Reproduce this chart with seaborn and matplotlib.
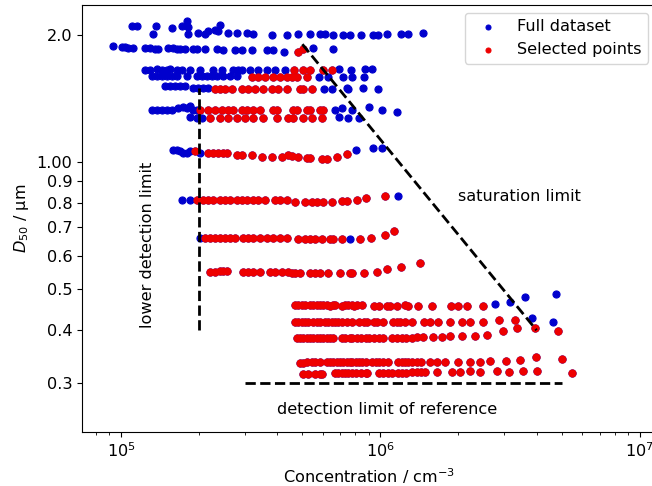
import numpy as np
import pandas as pd
import matplotlib
matplotlib.use("Agg")
import matplotlib.pyplot as plt
import seaborn as sns
from matplotlib.ticker import FixedLocator, FixedFormatter, NullLocator

# ---------------- data (concentration in units of 1e5 cm^-3, D50 in µm) ----------------
# Each row: points of the full dataset not selected (blue) and the selected points (red)
a_blue_c = [1.10, 1.15, 1.36, 1.33, 1.57, 1.72, 1.80, 1.81, 1.81, 1.98, 2.11, 2.16, 2.30, 2.36, 2.41, 2.58, 2.80,
            3.06, 3.23, 3.82, 4.36, 4.81, 5.35, 5.85, 6.11, 6.56, 7.15, 7.60, 8.45, 9.39, 9.82, 10.6, 12.0, 12.8, 14.6]
a_blue_d = [2.10, 2.10, 2.10, 2.01, 2.08, 2.10, 2.16, 2.09, 2.01, 2.02, 2.01, 2.04, 2.05, 2.04, 2.11, 2.02, 2.02,
            2.02, 2.01, 2.00, 2.00, 2.01, 2.01, 2.01, 2.01, 2.00, 2.00, 2.00, 2.00, 2.00, 2.00, 2.01, 2.01, 2.01, 2.02]
a_red_c = []
a_red_d = []

b_blue_c = [0.93, 1.01, 1.04, 1.06, 1.11, 1.24, 1.29, 1.35, 1.39, 1.52, 1.59, 1.64, 1.69, 1.76, 1.89, 1.96, 2.11,
            2.34, 2.47, 2.75, 2.93, 3.20, 3.65, 3.85, 4.25, 5.50, 6.56]
b_blue_d = [1.88, 1.87, 1.87, 1.86, 1.86, 1.86, 1.86, 1.85, 1.85, 1.86, 1.86, 1.85, 1.85, 1.85, 1.85, 1.85, 1.85,
            1.85, 1.84, 1.84, 1.84, 1.84, 1.84, 1.84, 1.82, 1.86, 1.85]
b_red_c = [4.81, 5.01]
b_red_d = [1.82, 1.85]

c_blue_c = [1.24, 1.29, 1.38, 1.44, 1.50, 1.54, 1.64, 1.72, 1.85, 2.01, 2.26, 2.45, 2.70, 2.83, 2.93, 3.14, 3.37,
            3.65, 3.92, 4.28, 6.91, 7.67, 8.75, 9.31]
c_blue_d = [1.65, 1.65, 1.66, 1.65, 1.65, 1.66, 1.65, 1.65, 1.65, 1.65, 1.65, 1.65, 1.65, 1.65, 1.65, 1.65, 1.65,
            1.65, 1.65, 1.65, 1.66, 1.65, 1.66, 1.66]
c_red_c = [4.65, 5.01, 5.35, 6.00, 6.50]
c_red_d = [1.65, 1.65, 1.65, 1.65, 1.65]

d_blue_c = [1.32, 1.38, 1.44, 1.50, 1.57, 1.64, 1.80, 1.96, 2.05, 2.14, 2.24, 2.34, 2.47, 2.63, 2.80,
            5.80, 6.28, 7.15, 7.74, 8.67]
d_blue_d = [1.60, 1.60, 1.60, 1.60, 1.60, 1.60, 1.60, 1.60, 1.60, 1.60, 1.60, 1.60, 1.60, 1.60, 1.60,
            1.59, 1.59, 1.59, 1.59, 1.59]
d_red_c = [3.20, 3.37, 3.58, 3.85, 4.10, 4.36, 4.56, 4.77, 5.21]
d_red_d = [1.59, 1.59, 1.59, 1.59, 1.59, 1.59, 1.59, 1.59, 1.59]

e_blue_c = [1.48, 1.54, 1.61, 1.69, 1.76, 1.89, 1.98, 2.07, 2.16, 6.06, 6.50, 7.41, 7.47, 8.60, 9.82]
e_blue_d = [1.51, 1.51, 1.51, 1.51, 1.51, 1.50, 1.50, 1.50, 1.50, 1.49, 1.49, 1.50, 1.49, 1.50, 1.49]
e_red_c = [2.30, 2.41, 2.52, 2.68, 2.93, 3.09, 3.28, 3.52, 3.82, 4.03, 4.36, 4.90, 5.01, 5.45]
e_red_d = [1.49, 1.49, 1.49, 1.49, 1.49, 1.49, 1.49, 1.49, 1.49, 1.49, 1.49, 1.49, 1.49, 1.49]

f_blue_c = [1.32, 1.38, 1.44, 1.50, 1.57, 1.66, 1.73, 1.80, 1.85, 1.89, 1.96, 6.68, 7.09, 7.80, 9.07, 10.1, 11.6]
f_blue_d = [1.33, 1.33, 1.33, 1.33, 1.33, 1.34, 1.35, 1.34, 1.36, 1.33, 1.33, 1.33, 1.34, 1.33, 1.35, 1.33, 1.31]
f_red_c = [2.01, 2.16, 2.30, 2.45, 2.58, 2.70, 2.93, 3.06, 3.23, 3.43, 3.85, 3.99, 4.60, 4.77, 5.21, 5.35, 5.85, 6.00]
f_red_d = [1.33, 1.33, 1.33, 1.33, 1.33, 1.33, 1.33, 1.33, 1.33, 1.33, 1.33, 1.33, 1.33, 1.33, 1.33, 1.33, 1.33, 1.33]

g_blue_c = [1.85, 1.96, 2.05, 6.91, 7.47, 8.30]
g_blue_d = [1.28, 1.27, 1.27, 1.28, 1.27, 1.27]
g_red_c = [2.20, 2.41, 2.58, 2.80, 3.01, 3.23, 3.52, 3.99, 4.40, 4.60, 5.01, 5.45, 5.96]
g_red_d = [1.27, 1.27, 1.27, 1.27, 1.27, 1.27, 1.27, 1.27, 1.27, 1.27, 1.27, 1.27, 1.27]

h_blue_c = [1.59, 1.64, 1.69, 1.73, 1.80, 1.85, 2.01, 8.08, 9.39, 10.1]
h_blue_d = [1.07, 1.07, 1.06, 1.05, 1.05, 1.06, 1.05, 1.07, 1.08, 1.08]
h_red_c = [1.93, 2.16, 2.26, 2.36, 2.47, 2.56, 2.80, 2.93, 3.20, 3.49, 3.82, 4.17, 4.40, 4.56, 4.81, 5.21, 5.35,
           5.96, 6.22, 6.80, 7.41]
h_red_d = [1.06, 1.05, 1.05, 1.05, 1.05, 1.05, 1.04, 1.04, 1.04, 1.03, 1.03, 1.03, 1.04, 1.035, 1.03, 1.025, 1.02,
           1.015, 1.015, 1.03, 1.045]

i_blue_c = [1.72, 1.85, 11.7]
i_blue_d = [0.815, 0.815, 0.83]
i_red_c = [1.96, 2.07, 2.16, 2.26, 2.41, 2.52, 2.63, 2.80, 2.93, 3.06, 3.23, 3.37, 3.58, 3.92, 4.10, 4.36,
           4.68, 5.11, 5.45, 5.70, 6.00, 6.50, 7.09, 7.41, 8.15, 8.83, 10.4]
i_red_d = [0.812, 0.812, 0.812, 0.812, 0.812, 0.812, 0.812, 0.812, 0.812, 0.812, 0.812, 0.812, 0.812, 0.812, 0.812,
           0.812, 0.806, 0.806, 0.806, 0.806, 0.806, 0.806, 0.808, 0.81, 0.813, 0.82, 0.83]

j_blue_c = [2.01, 7.60]
j_blue_d = [0.66, 0.657]
j_red_c = [2.11, 2.20, 2.30, 2.41, 2.52, 2.63, 2.75, 2.95, 3.09, 3.23, 3.43, 3.65, 3.85, 4.10, 4.36,
           4.81, 5.11, 5.35, 5.60, 5.96, 6.39, 6.56, 7.09, 8.37, 9.23, 10.4, 11.3]
j_red_d = [0.66, 0.66, 0.66, 0.66, 0.66, 0.66, 0.66, 0.66, 0.66, 0.66, 0.66, 0.66, 0.66, 0.66, 0.66,
           0.658, 0.658, 0.658, 0.658, 0.658, 0.658, 0.658, 0.658, 0.657, 0.66, 0.672, 0.687]

k_blue_c = []
k_blue_d = []
k_red_c = [2.20, 2.30, 2.41, 2.47, 2.56, 2.95, 3.09, 3.23, 3.43, 3.75, 3.92, 4.17, 4.40,
           4.56, 4.68, 4.90, 5.35, 5.60, 5.85, 6.28, 6.97, 7.60, 7.80, 8.67, 9.73, 10.6, 12.0, 14.2]
k_red_d = [0.549, 0.549, 0.551, 0.552, 0.551, 0.549, 0.549, 0.549, 0.549, 0.549, 0.549, 0.549, 0.549,
           0.546, 0.546, 0.546, 0.546, 0.546, 0.546, 0.546, 0.546, 0.546, 0.546, 0.547, 0.548, 0.558, 0.565, 0.577]

l_blue_c = [27.6, 31.6, 36.1, 47.4]
l_blue_d = [0.461, 0.466, 0.479, 0.487]
l_red_c = [4.68, 4.81, 4.98, 5.11, 5.35, 5.50, 5.70, 5.85, 6.00, 6.22, 6.39, 6.56, 6.68, 7.09, 7.28, 7.47, 7.74,
           7.94, 8.15, 8.52, 9.48, 9.91, 10.6, 10.9, 11.6, 12.4, 12.8, 14.0, 15.8, 18.7, 19.9, 21.5, 24.8]
l_red_d = [0.458, 0.459, 0.458, 0.458, 0.459, 0.458, 0.458, 0.459, 0.458, 0.458, 0.457, 0.458, 0.458, 0.457, 0.458,
           0.458, 0.458, 0.457, 0.458, 0.458, 0.457, 0.457, 0.457, 0.457, 0.457, 0.458, 0.457, 0.457, 0.457, 0.457,
           0.457, 0.457, 0.456]

m_blue_c = [38.5, 46.2]
m_blue_d = [0.427, 0.418]
m_red_c = [4.68, 4.81, 4.98, 5.11, 5.25, 5.50, 5.70, 5.85, 6.11, 6.28, 6.50, 6.68, 6.85, 7.09, 7.41, 7.74, 8.30,
           8.67, 8.91, 9.48, 9.73, 10.2, 11.2, 11.6, 11.9, 12.4, 13.2, 14.7, 15.5, 16.7, 18.5, 20.6, 22.1, 24.8,
           28.6, 33.0]
m_red_d = [0.418, 0.418, 0.418, 0.418, 0.418, 0.418, 0.418, 0.418, 0.418, 0.418, 0.418, 0.418, 0.418, 0.418,
           0.418, 0.418, 0.418, 0.418, 0.418, 0.418, 0.418, 0.418, 0.418, 0.418, 0.418, 0.418, 0.418, 0.418,
           0.418, 0.418, 0.418, 0.418, 0.418, 0.418, 0.423, 0.423]

n_blue_c = []
n_blue_d = []
n_red_c = [4.77, 4.90, 5.01, 5.21, 5.35, 5.50, 5.70, 5.85, 6.00, 6.22, 6.39, 6.56, 7.09, 7.28, 7.60, 7.80, 8.15,
           8.45, 8.83, 9.07, 9.48, 9.91, 10.2, 11.1, 11.6, 12.1, 12.6, 13.2, 13.8, 14.6, 15.9, 17.3, 18.5, 20.6,
           23.1, 25.7, 29.7, 33.6, 39.5, 48.3]
n_red_d = [0.383, 0.383, 0.383, 0.383, 0.383, 0.383, 0.383, 0.383, 0.383, 0.383, 0.383, 0.383, 0.383, 0.383,
           0.383, 0.383, 0.383, 0.383, 0.383, 0.383, 0.383, 0.383, 0.383, 0.383, 0.384, 0.384, 0.384, 0.384,
           0.385, 0.385, 0.385, 0.386, 0.387, 0.387, 0.387, 0.390, 0.398, 0.405, 0.405, 0.398]

o_blue_c = []
o_blue_d = []
o_red_c = [4.90, 5.01, 5.21, 5.45, 5.60, 5.85, 6.22, 6.39, 6.56, 6.80, 6.97, 7.15, 7.41, 7.60, 7.80, 8.08, 8.30,
           8.52, 8.83, 9.31, 9.65, 9.91, 10.2, 10.7, 11.7, 12.1, 12.4, 12.8, 13.2, 13.8, 14.4, 15.5, 16.5, 17.7,
           19.9, 22.1, 24.2, 26.4, 30.5, 34.5, 39.9, 50.1]
o_red_d = [0.335, 0.335, 0.336, 0.336, 0.336, 0.336, 0.336, 0.336, 0.336, 0.336, 0.336, 0.336, 0.336, 0.336,
           0.336, 0.336, 0.336, 0.336, 0.336, 0.336, 0.336, 0.336, 0.336, 0.336, 0.337, 0.337, 0.337, 0.337,
           0.337, 0.337, 0.337, 0.337, 0.337, 0.337, 0.337, 0.337, 0.337, 0.338, 0.338, 0.340, 0.346, 0.342]

p_blue_c = []
p_blue_d = []
p_red_c = [5.01, 5.25, 5.60, 5.85, 5.96, 6.68, 6.85, 7.09, 7.28, 7.47, 7.74, 8.08, 8.45, 8.83, 8.91, 9.91, 10.2,
           10.7, 11.1, 11.7, 12.1, 12.6, 13.2, 13.9, 14.4, 14.8, 16.5, 18.9, 20.2, 22.1, 24.3, 28.1, 31.4, 35.5,
           40.3, 55.0]
p_red_d = [0.315, 0.315, 0.315, 0.315, 0.315, 0.316, 0.316, 0.316, 0.316, 0.316, 0.316, 0.316, 0.316, 0.316,
           0.316, 0.317, 0.317, 0.317, 0.317, 0.317, 0.317, 0.317, 0.318, 0.318, 0.318, 0.318, 0.318, 0.318,
           0.318, 0.320, 0.318, 0.320, 0.318, 0.320, 0.320, 0.317]

rows = [
    (a_blue_c, a_blue_d, a_red_c, a_red_d), (b_blue_c, b_blue_d, b_red_c, b_red_d),
    (c_blue_c, c_blue_d, c_red_c, c_red_d), (d_blue_c, d_blue_d, d_red_c, d_red_d),
    (e_blue_c, e_blue_d, e_red_c, e_red_d), (f_blue_c, f_blue_d, f_red_c, f_red_d),
    (g_blue_c, g_blue_d, g_red_c, g_red_d), (h_blue_c, h_blue_d, h_red_c, h_red_d),
    (i_blue_c, i_blue_d, i_red_c, i_red_d), (j_blue_c, j_blue_d, j_red_c, j_red_d),
    (k_blue_c, k_blue_d, k_red_c, k_red_d), (l_blue_c, l_blue_d, l_red_c, l_red_d),
    (m_blue_c, m_blue_d, m_red_c, m_red_d), (n_blue_c, n_blue_d, n_red_c, n_red_d),
    (o_blue_c, o_blue_d, o_red_c, o_red_d), (p_blue_c, p_blue_d, p_red_c, p_red_d),
]

# Limit lines (data coordinates)
lower_limit_x = [2e5, 2e5]
lower_limit_y = [0.4, 1.5]
saturation_x = [5e5, 4e6]
saturation_y = [1.9, 0.4]
reference_x = [3e5, 5e6]
reference_y = [0.3, 0.3]

y_ticks = [0.3, 0.4, 0.5, 0.6, 0.7, 0.8, 0.9, 1.0, 2.0]
y_tick_labels = ["0.3", "0.4", "0.5", "0.6", "0.7", "0.8", "0.9", "1.00", "2.0"]

# ---------------- build tables ----------------
full_c, full_d, sel_c, sel_d = [], [], [], []
for bc, bd, rc, rd in rows:
    full_c += list(bc) + list(rc)
    full_d += list(bd) + list(rd)
    sel_c += list(rc)
    sel_d += list(rd)
full_df = pd.DataFrame({"conc": np.array(full_c) * 1e5, "d50": full_d})
sel_df = pd.DataFrame({"conc": np.array(sel_c) * 1e5, "d50": sel_d})

# ---------------- plot ----------------
plt.rcParams["font.family"] = ["DejaVu Sans"]
plt.rcParams["font.size"] = 11.6

BLUE = "#0000cd"
RED = "#ee0000"

fig = plt.figure(figsize=(6.52, 4.86), dpi=100)
ax = fig.add_axes([0.1258, 0.1111, 0.880, 0.8796])

sns.scatterplot(data=full_df, x="conc", y="d50", color=BLUE, s=26, edgecolor=BLUE, linewidth=0.8,
                label="Full dataset", ax=ax, zorder=2)
sns.scatterplot(data=sel_df, x="conc", y="d50", color=RED, s=26, edgecolor=RED, linewidth=0.8,
                label="Selected points", ax=ax, zorder=3)

ax.plot(lower_limit_x, lower_limit_y, "k--", lw=2, zorder=4)
ax.plot(saturation_x, saturation_y, "k--", lw=2, zorder=4)
ax.plot(reference_x, reference_y, "k--", lw=2, zorder=4)

ax.set_xscale("log")
ax.set_yscale("log")
ax.set_xlim(7.07e4, 1.153e7)
ax.set_ylim(0.2297, 2.359)

ax.yaxis.set_major_locator(FixedLocator(y_ticks))
ax.yaxis.set_major_formatter(FixedFormatter(y_tick_labels))
ax.yaxis.set_minor_locator(NullLocator())

ax.text(2e6, 0.827, "saturation limit", ha="left", va="center")
ax.text(1.27e5, 0.636, "lower detection limit", rotation=90, ha="center", va="center")
ax.text(1.06e6, 0.259, "detection limit of reference", ha="center", va="center")

ax.set_xlabel("Concentration / cm$^{-3}$")
ax.set_ylabel("$D_{50}$ / µm")

ax.legend(loc="upper right", markerscale=0.7)

fig.savefig("out.png", dpi=100)
